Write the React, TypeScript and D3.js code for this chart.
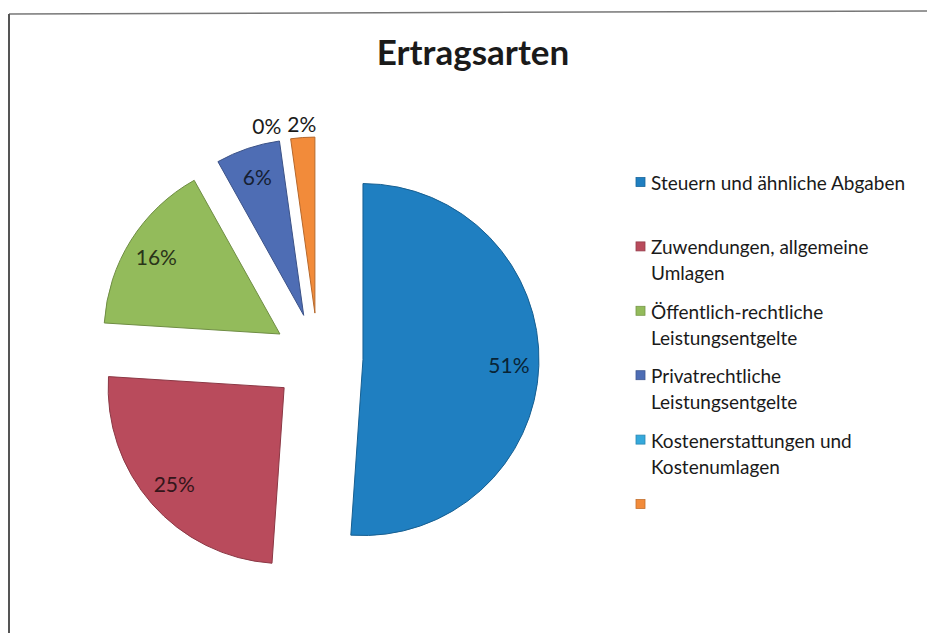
import { useEffect, useRef } from 'react';
import * as d3 from 'd3';

const categories = [
  'Steuern und ähnliche Abgaben',
  'Zuwendungen, allgemeine Umlagen',
  'Öffentlich-rechtliche Leistungsentgelte',
  'Privatrechtliche Leistungsentgelte',
  'Kostenerstattungen und Kostenumlagen',
  '',
];
const shares = [51.1, 24.9, 15.9, 5.9, 0, 2.2];
const colors = ['#1f7fc1', '#b94b5c', '#93bb5b', '#4e6db4', '#35a9dc', '#f28b3a'];

const W = 927;
const H = 633;
const FONT = 'Lato, "Open Sans", sans-serif';

const App = () => {
  const svgRef = useRef<SVGSVGElement | null>(null);

  useEffect(() => {
    if (!svgRef.current) return;
    const svg = d3.select(svgRef.current);
    svg.selectAll('*').remove();

    svg.append('rect').attr('width', W).attr('height', H).attr('fill', '#fff');

    // frame of the scanned page
    svg.append('line').attr('x1', 9).attr('y1', 14).attr('x2', W).attr('y2', 11)
      .attr('stroke', '#777').attr('stroke-width', 1.5);
    svg.append('line').attr('x1', 9).attr('y1', 14).attr('x2', 9).attr('y2', H)
      .attr('stroke', '#555').attr('stroke-width', 2);

    svg.append('text')
      .attr('x', 473).attr('y', 65)
      .attr('text-anchor', 'middle')
      .style('font', `bold 35px ${FONT}`).attr('fill', '#1a1a1a')
      .text('Ertragsarten');

    // exploded pie
    const cx = 318, cy = 358, r = 176, explode = 45;
    const total = d3.sum(shares);
    const pie = d3.pie<number>().sort(null).value(d => d);
    const arcs = pie(shares);
    const arc = d3.arc<d3.PieArcDatum<number>>().innerRadius(0).outerRadius(r);
    const mid = (a: d3.PieArcDatum<number>) => (a.startAngle + a.endAngle) / 2;
    const offset = (a: d3.PieArcDatum<number>) => [
      explode * Math.sin(mid(a)),
      -explode * Math.cos(mid(a)),
    ];

    const g = svg.append('g').attr('transform', `translate(${cx},${cy})`);
    g.selectAll('path')
      .data(arcs.filter(a => a.value > 0))
      .join('path')
      .attr('transform', d => `translate(${offset(d)[0]},${offset(d)[1]})`)
      .attr('d', arc)
      .attr('fill', d => colors[d.index])
      .attr('stroke', d => d3.color(colors[d.index])!.darker(0.8).toString())
      .attr('stroke-width', 1);

    // labels: inside for larger slices, outside for the small ones
    const pct = d3.format('.0%');
    const labels = arcs.map((a, i) => {
      const [ox, oy] = offset(a);
      const outside = shares[i] / total < 0.03;
      const lr = outside ? r * 1.08 : r * 0.83;
      return {
        x: ox + lr * Math.sin(mid(a)),
        y: oy - lr * Math.cos(mid(a)),
        text: pct(shares[i] / total),
        outside,
        color: outside ? '#1a1a1a' : d3.interpolateRgb(colors[i], '#000')(0.72),
      };
    });
    // push overlapping outside labels apart (leftwards)
    const outs = labels.filter(l => l.outside);
    for (let k = outs.length - 2; k >= 0; k--) {
      const minGap = 35;
      if (outs[k + 1].x - outs[k].x < minGap) outs[k].x = outs[k + 1].x - minGap;
    }

    g.selectAll('text.lbl')
      .data(labels)
      .join('text')
      .attr('class', 'lbl')
      .attr('x', d => d.x).attr('y', d => d.y)
      .attr('text-anchor', 'middle').attr('dominant-baseline', 'central')
      .style('font', `21px ${FONT}`)
      .attr('fill', d => d.color)
      .text(d => d.text);

    // legend
    const lx = 636, ly0 = 182, step = 64.4, lineH = 26, maxW = 270;
    const tx = lx + 15;
    const lg = svg.append('g');
    categories.forEach((name, i) => {
      const y = ly0 + i * step;
      lg.append('rect')
        .attr('x', lx).attr('y', y - 4.5).attr('width', 9).attr('height', 9)
        .attr('fill', colors[i])
        .attr('stroke', d3.color(colors[i])!.darker(0.6).toString()).attr('stroke-width', 0.8);
      const t = lg.append('text')
        .attr('x', tx).attr('y', y + 8)
        .style('font', `19px ${FONT}`).attr('fill', '#1a1a1a');
      // simple word wrap
      const words = name.split(' ').filter(w => w);
      let line: string[] = [];
      let ts = t.append('tspan').attr('x', tx).attr('dy', 0);
      words.forEach(w => {
        line.push(w);
        ts.text(line.join(' '));
        if ((ts.node() as SVGTSpanElement).getComputedTextLength() > maxW && line.length > 1) {
          line.pop();
          ts.text(line.join(' '));
          line = [w];
          ts = t.append('tspan').attr('x', tx).attr('dy', lineH).text(w);
        }
      });
    });
  }, []);

  return (
    <svg
      ref={svgRef}
      width={W}
      height={H}
      style={{ position: 'absolute', left: 0, top: 0, display: 'block' }}
    />
  );
};

export default App;
